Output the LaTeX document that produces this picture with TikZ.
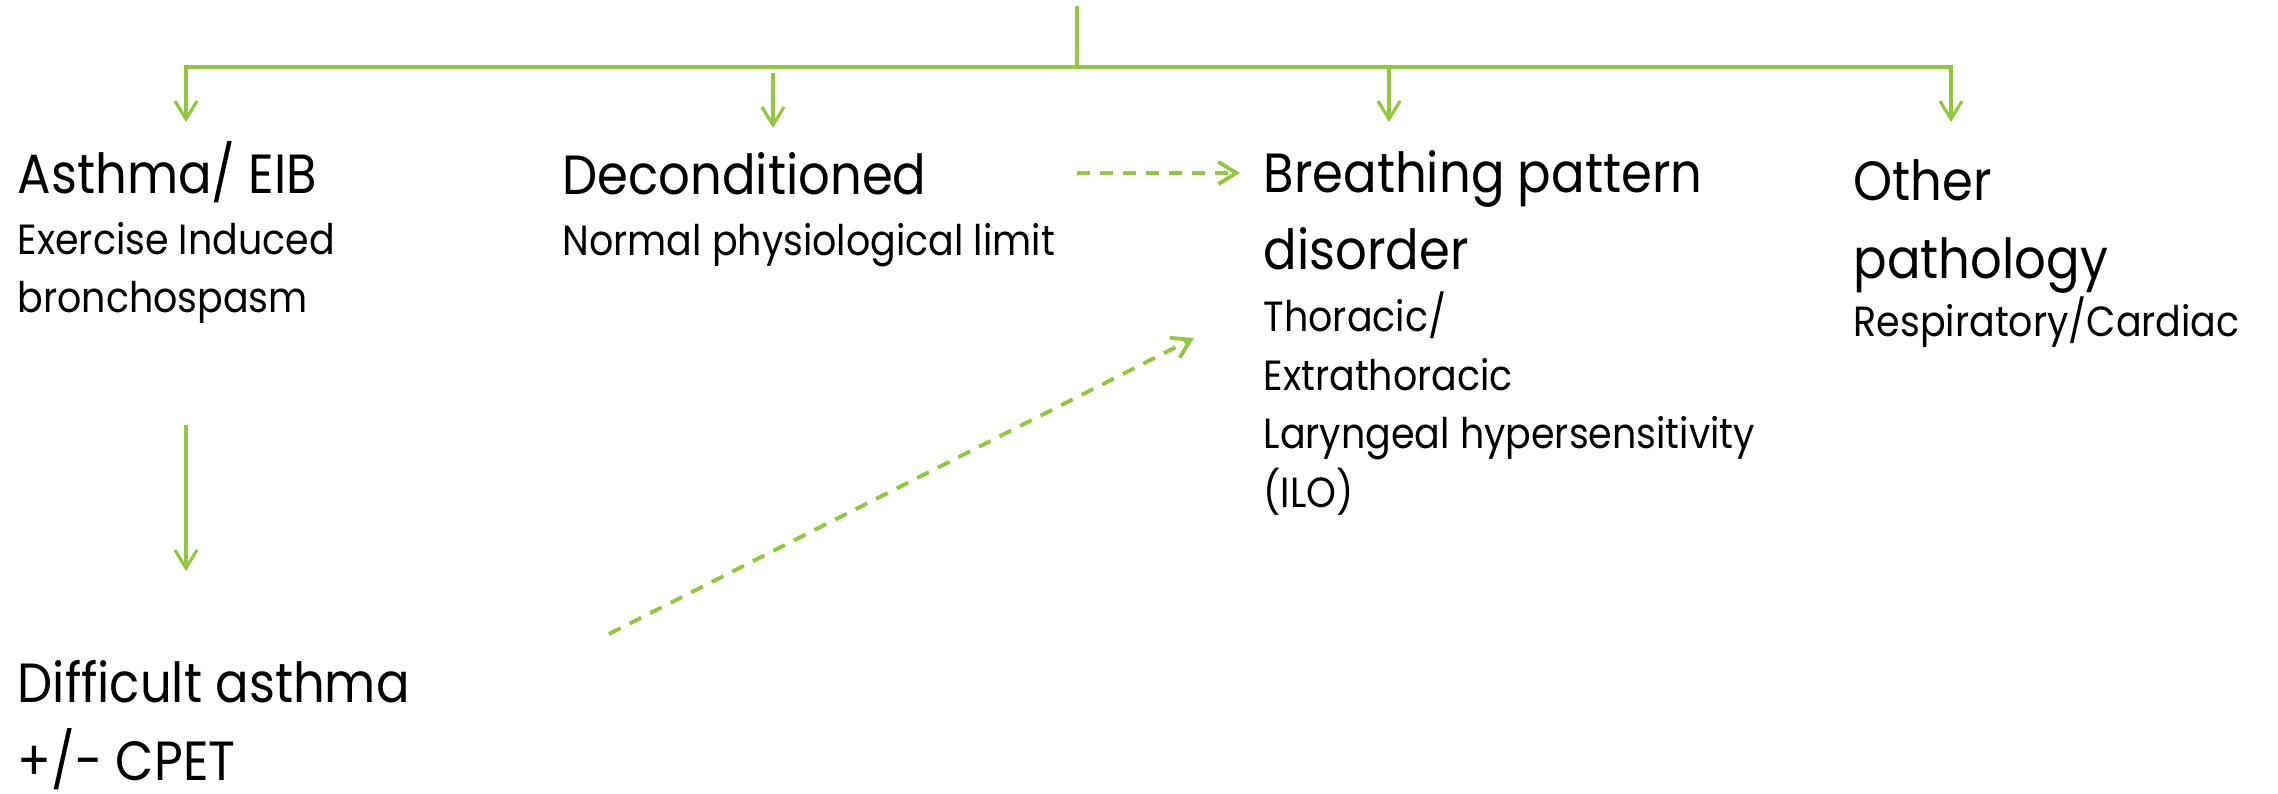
\documentclass[tikz,border=0pt]{standalone}
\usepackage{fontspec}
\setmainfont{Poppins}[FakeStretch=0.9]
\usetikzlibrary{arrows.meta}
\definecolor{branchgreen}{HTML}{92C83E}

\begin{document}
\begin{tikzpicture}[x=0.01cm, y=-0.01cm,
  trunk/.style={draw=branchgreen, line width=0.9pt},
  link/.style={trunk, -{Straight Barb[length=5.1pt,width=6.3pt]}},
  hint/.style={link, line width=1.1pt, dash pattern=on 3.7pt off 2.85pt},
  title/.style={anchor=base west, inner sep=0pt, align=left, font=\fontsize{15.7}{21.9}\selectfont},
  sub/.style={anchor=base west, inner sep=0pt, align=left, font=\fontsize{12}{16.6}\selectfont}]
  \useasboundingbox (0,0) rectangle (2278,794);

  \coordinate (root) at (1077, 6);
  \coordinate (J) at (1077, 67);
  \coordinate (J_1) at (186, 67);
  \coordinate (J_2) at (773, 73);
  \coordinate (J_3) at (1389, 67);
  \coordinate (J_4) at (1951, 67);
  \coordinate (T_1) at (186, 122);
  \coordinate (T_2) at (773, 128);
  \coordinate (T_3) at (1389, 122);
  \coordinate (T_4) at (1951, 122);
  \coordinate (A_1) at (186, 425);
  \coordinate (A_2) at (186, 571);
  \coordinate (D_1) at (1077, 173);
  \coordinate (D_2) at (1240, 173);
  \coordinate (D_3) at (609, 634);
  \coordinate (D_4) at (1194, 338);

  \node[title] (asthma) at (17, 194) {Asthma/ EIB};
  \node[sub] (asthmasub) at (17, 313) {Exercise Induced\\bronchospasm};
  \node[title] (decond) at (562, 195) {Deconditioned};
  \node[sub] (decondsub) at (562, 255) {Normal physiological limit};
  \node[title] (bpd) at (1263, 270) {Breathing pattern\\disorder};
  \node[sub] (bpdsub) at (1263, 507) {Thoracic/\\Extrathoracic\\Laryngeal hypersensitivity\\(ILO)};
  \node[title] (other) at (1853, 278) {Other\\pathology};
  \node[sub] (othersub) at (1853, 337) {Respiratory/Cardiac};
  \node[title] (difficult) at (17, 780) {Difficult asthma\\+/- CPET};

  \draw[trunk] (root) -- (J);
  \draw[link, {Straight Barb[length=5.1pt,width=6.3pt]}-{Straight Barb[length=5.1pt,width=6.3pt]}] (T_1) -- (J_1) -- (J_4) -- (T_4);
  \draw[link] (J_3) -- (T_3);
  \draw[link] (J_2) -- (T_2);
  \draw[link] (A_1) -- (A_2);
  \draw[hint] (D_1) -- (D_2);
  \draw[hint] (D_3) -- (D_4);
\end{tikzpicture}
\end{document}
